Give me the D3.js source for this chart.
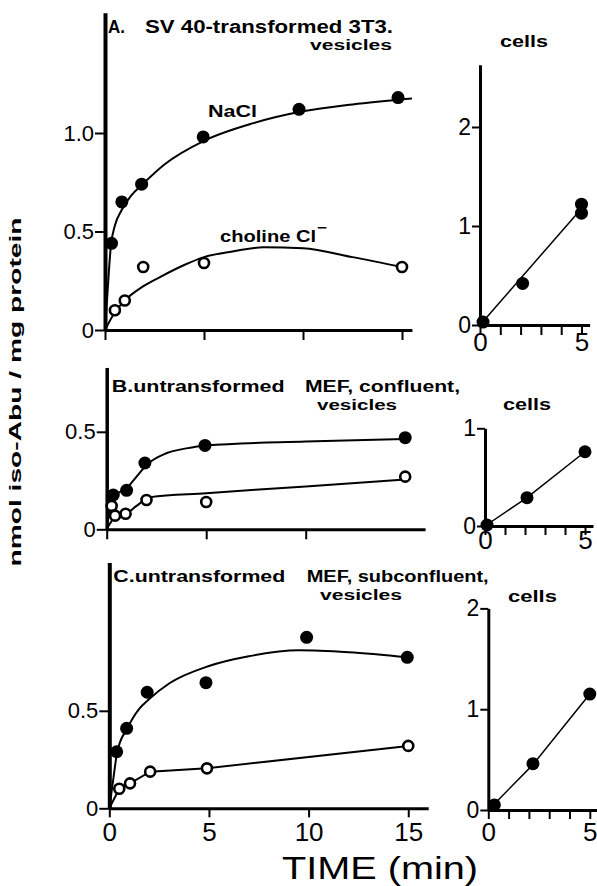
<!DOCTYPE html>
<html>
<head>
<meta charset="utf-8">
<script src="https://cdn.jsdelivr.net/npm/d3@7"></script>
<style>
  html, body { margin: 0; padding: 0; background: #fff; }
  svg { display: block; }
  text { font-family: "Liberation Sans", Arial, sans-serif; fill: #000; }
</style>
</head>
<body>
<svg id="chart" width="597" height="886"></svg>
<script>
// ---------------- DATA ----------------
// Panel A (SV 40-transformed 3T3), vesicles
const aNaClT = [0.33, 0.85, 1.85, 4.96, 9.8, 14.8];
const aNaClV = [0.44, 0.65, 0.74, 0.98, 1.12, 1.18];
const aCholT = [0.5, 1.0, 1.93, 5.0, 15.0];
const aCholV = [0.10, 0.15, 0.32, 0.34, 0.32];
const aNaClCurveT = [0, 0.1, 0.3, 0.5, 0.85, 1.3, 1.9, 3, 5, 7.5, 10, 12.5, 15.5];
const aNaClCurveV = [0, 0.15, 0.43, 0.53, 0.61, 0.68, 0.74, 0.84, 0.96, 1.05, 1.11, 1.145, 1.175];
const aCholCurveT = [0, 0.5, 1, 1.9, 2.8, 4, 5, 6.5, 8, 10, 12.5, 15];
const aCholCurveV = [0, 0.09, 0.15, 0.22, 0.27, 0.33, 0.37, 0.40, 0.42, 0.415, 0.37, 0.32];
// Panel A cells
const aCellsT = [0.15, 2.1, 5.0, 5.0];
const aCellsV = [0.03, 0.42, 1.22, 1.13];
const aCellsLineT = [0, 5.1];
const aCellsLineV = [0, 1.2];

// Panel B (untransformed MEF, confluent), vesicles
const bNaClT = [0.33, 1.0, 1.92, 4.94, 15.0];
const bNaClV = [0.176, 0.20, 0.34, 0.43, 0.47];
const bCholT = [0.25, 0.42, 0.95, 2.0, 5.0, 15.0];
const bCholV = [0.12, 0.07, 0.08, 0.15, 0.14, 0.27];
const bNaClCurveT = [0, 0.15, 0.33, 1, 1.5, 2, 3, 4, 5, 10, 15];
const bNaClCurveV = [0, 0.10, 0.17, 0.21, 0.27, 0.33, 0.39, 0.415, 0.43, 0.45, 0.463];
const bCholCurveT = [0, 0.4, 1, 1.5, 2.2, 5, 10, 15];
const bCholCurveV = [0, 0.06, 0.08, 0.12, 0.165, 0.185, 0.22, 0.256];
// Panel B cells
const bCellsT = [0.1, 2.1, 5.0];
const bCellsV = [0.01, 0.29, 0.76];
const bCellsLineT = [0, 2.1, 5.0];
const bCellsLineV = [0, 0.29, 0.76];

// Panel C (untransformed MEF, subconfluent), vesicles
const cNaClT = [0.37, 0.87, 1.9, 4.85, 9.9, 14.95];
const cNaClV = [0.29, 0.41, 0.595, 0.644, 0.877, 0.774];
const cCholT = [0.5, 1.04, 2.05, 4.9, 15.0];
const cCholV = [0.10, 0.128, 0.188, 0.205, 0.32];
const cNaClCurveT = [0, 0.2, 0.4, 0.9, 1.5, 2, 3, 5, 7, 9.5, 12, 15];
const cNaClCurveV = [0, 0.15, 0.29, 0.41, 0.51, 0.56, 0.64, 0.73, 0.78, 0.81, 0.80, 0.774];
const cCholCurveT = [0, 0.5, 1.04, 2.05, 4.9, 15.0];
const cCholCurveV = [0, 0.10, 0.128, 0.188, 0.205, 0.32];
// Panel C cells
const cCellsT = [0.3, 2.2, 5.0];
const cCellsV = [0.05, 0.46, 1.15];
const cCellsLineT = [0.2, 2.2, 5.0];
const cCellsLineV = [0.04, 0.45, 1.15];

// Tick values
const vesTimeTicks = [0, 5, 10, 15];
const vesTimeTicksB = [0, 5, 10];
const cellTimeTicks = [0, 1, 2, 3, 4, 5];
const vesYTicksA = [0, 0.5, 1.0];
const vesYTicksBC = [0, 0.5];
const cellYTicksA = [0, 1, 2];
const cellYTicksB = [0, 1];
const cellYTicksC = [0, 1, 2];

// Text
const titleA1 = "A.", titleA2 = "SV 40-transformed 3T3.";
const titleB1 = "B.untransformed", titleB2 = "MEF, confluent,";
const titleC1 = "C.untransformed", titleC2 = "MEF, subconfluent,";
const vesLabel = "vesicles";
const cellsLabel = "cells";
const naclLabel = "NaCl";
const cholLabel = "choline Cl";
const yTitle = "nmol iso-Abu / mg protein";
const xTitle = "TIME (min)";

const zip = (t, v) => t.map((d, i) => [d, v[i]]);

// ---------------- DRAWING ----------------
const svg = d3.select("#chart");

const fmtVes = d => d === 0 ? "0" : d3.format(".1f")(d);
const fmtInt = d => String(d);
const noLab = () => "";
const endLab = d => (d === 0 || d === 5) ? String(d) : "";

function panel(cfg) {
  const x = d3.scaleLinear().domain([0, cfg.xEnd]).range([cfg.x0, cfg.x0 + cfg.xEnd * cfg.xPx]);
  const y = d3.scaleLinear().domain([0, cfg.yTop]).range([cfg.y0, cfg.y0 - cfg.yTop * cfg.yPx]);
  const g = svg.append("g");

  const ya = g.append("g").attr("transform", `translate(${cfg.x0},0)`)
    .call(d3.axisLeft(y).tickValues(cfg.yTicks).tickSize(cfg.tickY).tickSizeOuter(0).tickPadding(1).tickFormat(cfg.yFmt));
  ya.select(".domain").attr("stroke-width", cfg.axisW).attr("stroke", "#000");
  ya.selectAll(".tick line").attr("stroke-width", 2).attr("stroke", "#000");
  ya.selectAll(".tick text").attr("font-size", cfg.yFont).attr("fill", "#000")
    .attr("font-family", '"Liberation Sans", Arial, sans-serif');

  const xa = g.append("g").attr("transform", `translate(0,${cfg.y0})`)
    .call(d3.axisBottom(x).tickValues(cfg.xTicks).tickSize(cfg.tickX).tickSizeOuter(0)
      .tickPadding(cfg.xPad).tickFormat(cfg.xFmt));
  xa.select(".domain").attr("stroke-width", cfg.axisWx).attr("stroke", "#000");
  xa.selectAll(".tick line").attr("stroke-width", 2).attr("stroke", "#000");
  xa.selectAll(".tick text").attr("font-size", cfg.xFont).attr("fill", "#000")
    .attr("font-family", '"Liberation Sans", Arial, sans-serif');

  const line = d3.line().x(d => x(d[0])).y(d => y(d[1]));
  (cfg.lines || []).forEach(l => {
    g.append("path").datum(l.data)
      .attr("fill", "none").attr("stroke", "#000").attr("stroke-width", l.w || 2)
      .attr("d", line.curve(l.smooth ? d3.curveMonotoneX : d3.curveLinear));
  });
  (cfg.points || []).forEach(p => {
    g.append("g").selectAll("circle").data(p.data).join("circle")
      .attr("cx", d => x(d[0])).attr("cy", d => y(d[1]))
      .attr("r", p.open ? 5 : 6.5)
      .attr("fill", p.open ? "#fff" : "#000")
      .attr("stroke", "#000").attr("stroke-width", p.open ? 2.6 : 0);
  });
  return { x, y, g };
}

// Panel A vesicles
panel({
  x0: 105, xPx: 19.8, xEnd: 15.5, y0: 330, yPx: 197, yTop: 1.61,
  yTicks: vesYTicksA, yFmt: fmtVes, xTicks: vesTimeTicks, xFmt: noLab,
  tickY: 10, tickX: 10, xPad: 4, yFont: 22, xFont: 26, axisW: 4, axisWx: 3,
  lines: [
    { data: zip(aNaClCurveT, aNaClCurveV), smooth: true },
    { data: zip(aCholCurveT, aCholCurveV), smooth: true }
  ],
  points: [
    { data: zip(aNaClT, aNaClV) },
    { data: zip(aCholT, aCholV), open: true }
  ]
});
// Panel A cells
panel({
  x0: 480, xPx: 20.3, xEnd: 5.4, y0: 325, yPx: 99, yTop: 2.63,
  yTicks: cellYTicksA, yFmt: fmtInt, xTicks: cellTimeTicks, xFmt: endLab,
  tickY: 8, tickX: 10, xPad: -2, yFont: 23, xFont: 26, axisW: 3, axisWx: 3,
  lines: [{ data: zip(aCellsLineT, aCellsLineV), w: 1.5 }],
  points: [{ data: zip(aCellsT, aCellsV) }]
});

// Panel B vesicles
panel({
  x0: 106.7, xPx: 19.9, xEnd: 16, y0: 529.3, yPx: 195, yTop: 0.83,
  yTicks: vesYTicksBC, yFmt: fmtVes, xTicks: vesTimeTicksB, xFmt: noLab,
  tickY: 10, tickX: 10, xPad: 4, yFont: 22, xFont: 26, axisW: 3.5, axisWx: 3,
  lines: [
    { data: zip(bNaClCurveT, bNaClCurveV), smooth: true },
    { data: zip(bCholCurveT, bCholCurveV), smooth: true }
  ],
  points: [
    { data: zip(bNaClT, bNaClV) },
    { data: zip(bCholT, bCholV), open: true }
  ]
});
// Panel B cells
panel({
  x0: 485, xPx: 20, xEnd: 5.4, y0: 526, yPx: 97.7, yTop: 1,
  yTicks: cellYTicksB, yFmt: fmtInt, xTicks: cellTimeTicks, xFmt: endLab,
  tickY: 8, tickX: 9, xPad: -4, yFont: 23, xFont: 26, axisW: 3, axisWx: 3,
  lines: [{ data: zip(bCellsLineT, bCellsLineV), w: 1.5 }],
  points: [{ data: zip(bCellsT, bCellsV) }]
});

// Panel C vesicles
panel({
  x0: 109.3, xPx: 19.93, xEnd: 16, y0: 808.3, yPx: 195, yTop: 1.26,
  yTicks: vesYTicksBC, yFmt: fmtVes, xTicks: vesTimeTicks, xFmt: fmtInt,
  tickY: 10, tickX: 9, xPad: 5, yFont: 22, xFont: 26, axisW: 4, axisWx: 3,
  lines: [
    { data: zip(cNaClCurveT, cNaClCurveV), smooth: true },
    { data: zip(cCholCurveT, cCholCurveV), smooth: false }
  ],
  points: [
    { data: zip(cNaClT, cNaClV) },
    { data: zip(cCholT, cCholV), open: true }
  ]
});
// Panel C cells
panel({
  x0: 488.3, xPx: 20.3, xEnd: 5.5, y0: 810, yPx: 100.8, yTop: 2,
  yTicks: cellYTicksC, yFmt: fmtInt, xTicks: cellTimeTicks, xFmt: endLab,
  tickY: 8, tickX: 9, xPad: 4, yFont: 23, xFont: 26, axisW: 3, axisWx: 3,
  lines: [{ data: zip(cCellsLineT, cCellsLineV), w: 1.5 }],
  points: [{ data: zip(cCellsT, cCellsV) }]
});

// ---------------- LABELS ----------------
function label(txt, x, y, size, len, weight) {
  const t = svg.append("text").attr("x", x).attr("y", y).attr("font-size", size)
    .attr("font-weight", weight || "bold").text(txt);
  if (len) t.attr("textLength", len).attr("lengthAdjust", "spacingAndGlyphs");
  return t;
}

label(titleA1, 108, 33, 18, 17);
label(titleA2, 145, 33, 18, 248);
label(vesLabel, 310, 50, 14.5, 82);
label(cellsLabel, 500, 47, 16, 48);
label(naclLabel, 208, 117, 16, 49);
label(cholLabel, 220, 242, 16, 96);
label("\u2212", 317, 232, 13, 10);

label(titleB1, 111.7, 392, 16, 173);
label(titleB2, 305, 392, 16, 155);
label(vesLabel, 317, 410, 14, 80);
label(cellsLabel, 503, 410, 16, 48);

label(titleC1, 113.3, 582, 16, 172);
label(titleC2, 306.7, 582, 16, 182);
label(vesLabel, 320, 600, 14, 82);
label(cellsLabel, 508, 602, 16, 49);

svg.append("text").attr("transform", "translate(21,392) rotate(-90)")
  .attr("text-anchor", "middle").attr("font-size", 17).attr("font-weight", "bold")
  .attr("textLength", 349).attr("lengthAdjust", "spacingAndGlyphs").text(yTitle);

label(xTitle, 282, 879, 32, 196, "normal");
</script>
</body>
</html>
